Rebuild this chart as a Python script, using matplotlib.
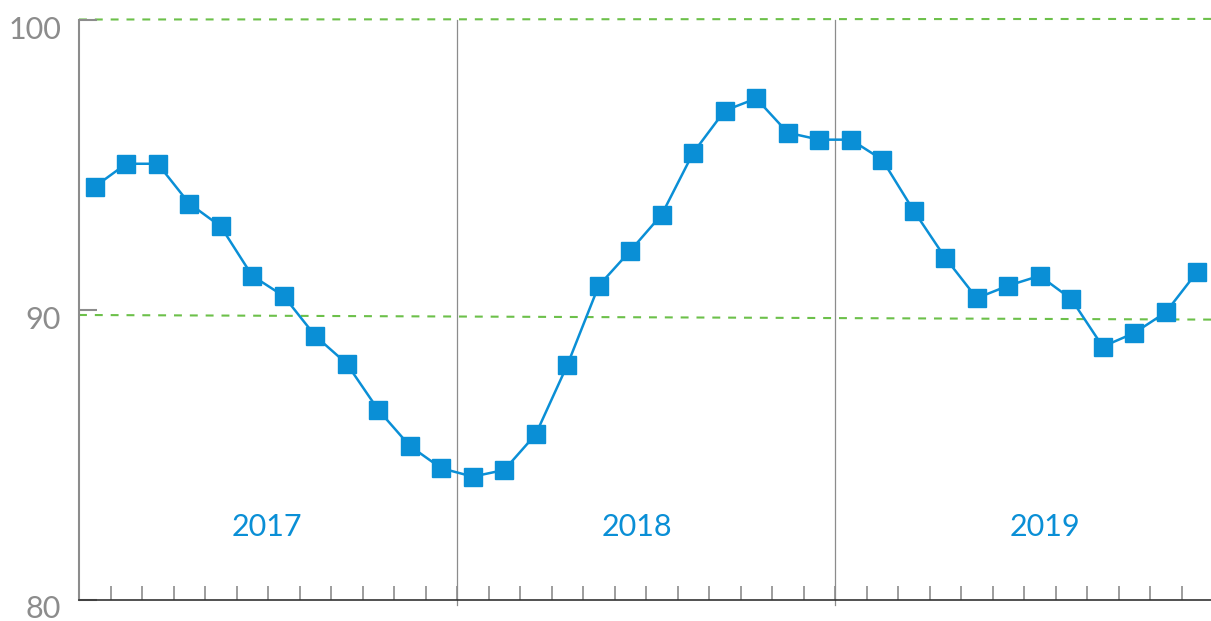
"""
Monthly index 2017-2019 with year bands and 90/100 reference lines.
"""

import matplotlib
matplotlib.use("Agg")
import matplotlib.pyplot as plt
from matplotlib.transforms import ScaledTranslation

# Data (Jan 2017 .. Dec 2019)
years = ["2017", "2018", "2019"]
values = [
    94.24, 95.03, 95.03, 93.66, 92.87, 91.17, 90.47, 89.10, 88.14, 86.55, 85.31, 84.54,
    84.25, 84.48, 85.71, 88.09, 90.83, 92.03, 93.28, 95.41, 96.86, 97.28, 96.10, 95.86,
    95.86, 95.17, 93.41, 91.79, 90.40, 90.83, 91.17, 90.37, 88.73, 89.20, 89.91, 91.31,
]
ref_top = [100.0, 100.02]
ref_mid = [89.82, 89.66]
y_ticks = [80, 90, 100]

BLUE = "#0a8fd6"
GREEN = "#6cc04a"
GRAY = "#8c8c8c"

# where the year labels sit (month index)
YEAR_LABEL_X = [5.46, 17.2, 30.16]

plt.rcParams["font.family"] = ["Lato", "DejaVu Sans"]

fig = plt.figure(figsize=(12.11, 6.21), dpi=100)
W, H = 1211, 621
ax = fig.add_axes([79 / W, (H - 600) / H, (W - 79) / W, (600 - 19.5) / H])

n = len(values)
x = list(range(n))
ax.set_xlim(-0.5, -0.5 + (W - 79) / 31.5)
ax.set_ylim(80, 100)

# reference lines
ax.plot([-0.5, n - 0.5], ref_top, color=GREEN, lw=1.5, dashes=(3.8, 3.8), zorder=1, clip_on=False)
ax.plot([-0.5, n - 0.5], ref_mid, color=GREEN, lw=1.5, dashes=(3.8, 3.8), zorder=1, clip_on=False)

# year separators and labels
for k, yr in enumerate(years):
    if k > 0:
        ax.axvline(12 * k - 0.5, ymin=-0.008, ymax=1, color=GRAY, lw=0.9, clip_on=False, zorder=1)
    ax.text(YEAR_LABEL_X[k], 82.5, yr, color=BLUE, fontsize=22, ha="center", va="center")

ax.plot(x, values, color=BLUE, lw=1.8, marker="s", markersize=12.5, zorder=3)

# axes styling
for s in ["top", "right"]:
    ax.spines[s].set_visible(False)
ax.spines["left"].set_color(GRAY)
ax.spines["left"].set_linewidth(1.5)
ax.spines["bottom"].set_color("#333333")
ax.spines["bottom"].set_linewidth(1.2)

ax.set_xticks([i + 0.5 for i in range(n - 1)])
ax.set_xticklabels([])
ax.tick_params(axis="x", direction="in", length=10, width=1.2, color=GRAY)

ax.set_yticks(y_ticks)
ax.set_yticklabels([str(t) for t in y_ticks])
ax.tick_params(axis="y", direction="in", length=13, width=1.5, color=GRAY,
               labelcolor=GRAY, labelsize=22, pad=13)
for lab, dy in zip(ax.get_yticklabels(), [6, 8, 8]):
    lab.set_transform(lab.get_transform() + ScaledTranslation(0, -dy / 100, fig.dpi_scale_trans))

fig.savefig("out.png", dpi=100)
